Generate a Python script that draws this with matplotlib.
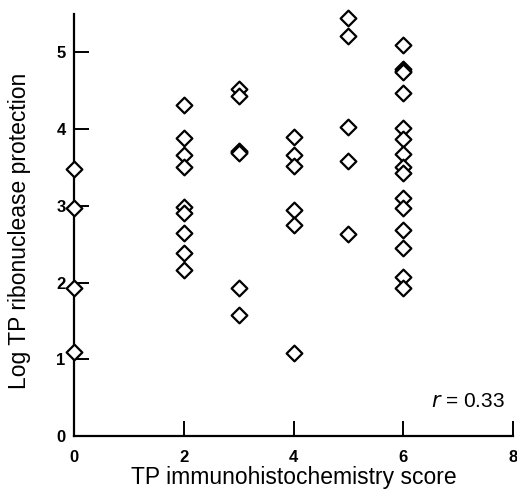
# Scatter of log TP ribonuclease protection vs TP immunohistochemistry score

import matplotlib
matplotlib.use("Agg")
import matplotlib.pyplot as plt

# values, one list per immunohistochemistry score
scores = [0, 2, 3, 4, 5, 6]
log_tp_0 = [3.48, 2.97, 1.93, 1.09]
log_tp_2 = [4.31, 3.88, 3.66, 3.50, 2.98, 2.90, 2.64, 2.38, 2.16]
log_tp_3 = [4.52, 4.43, 3.72, 3.70, 3.69, 1.93, 1.58]
log_tp_4 = [3.90, 3.66, 3.52, 2.94, 2.75, 1.08]
log_tp_5 = [5.45, 5.21, 4.03, 3.58, 2.63]
log_tp_6 = [5.09, 4.78, 4.76, 4.74, 4.47, 4.02, 3.87, 3.68, 3.50, 3.43,
            3.10, 2.97, 2.68, 2.45, 2.07, 1.93]
r_value = 0.33

x_ticks = [0, 2, 4, 6, 8]
y_ticks = [0, 1, 2, 3, 4, 5]

plt.rcParams['font.family'] = ['Liberation Sans', 'DejaVu Sans']

fig = plt.figure(figsize=(5.17, 4.95), dpi=100)
ax = fig.add_axes([74 / 517, 59 / 495, 439 / 517, 422 / 495])

groups = [log_tp_0, log_tp_2, log_tp_3, log_tp_4, log_tp_5, log_tp_6]
for score, values in zip(scores, groups):
    ax.scatter([score] * len(values), values, marker='D', s=64,
               facecolor='white', edgecolor='black', linewidth=1.6,
               zorder=3, clip_on=False)

ax.set_xlim(0, 8)
ax.set_ylim(0, 5.5)
ax.set_xticks(x_ticks)
ax.set_yticks(y_ticks)

for side in ['top', 'right']:
    ax.spines[side].set_visible(False)
for side in ['left', 'bottom']:
    ax.spines[side].set_linewidth(1.6)

ax.tick_params(direction='in', length=11, width=1.4, labelsize=12)
ax.tick_params(axis='x', pad=10)
ax.tick_params(axis='y', pad=6)
for lab in ax.get_xticklabels() + ax.get_yticklabels():
    lab.set_fontweight('bold')

ax.set_xlabel('TP immunohistochemistry score', fontsize=16.5, labelpad=1)
ax.set_ylabel('Log TP ribonuclease protection', fontsize=16.5, labelpad=18)
ax.yaxis.label.set_y(0.487)

ax.text(7.86, 0.32, r'$r$ = %.2f' % r_value, fontsize=15, ha='right',
        va='bottom')

fig.savefig('out.png', dpi=100)
